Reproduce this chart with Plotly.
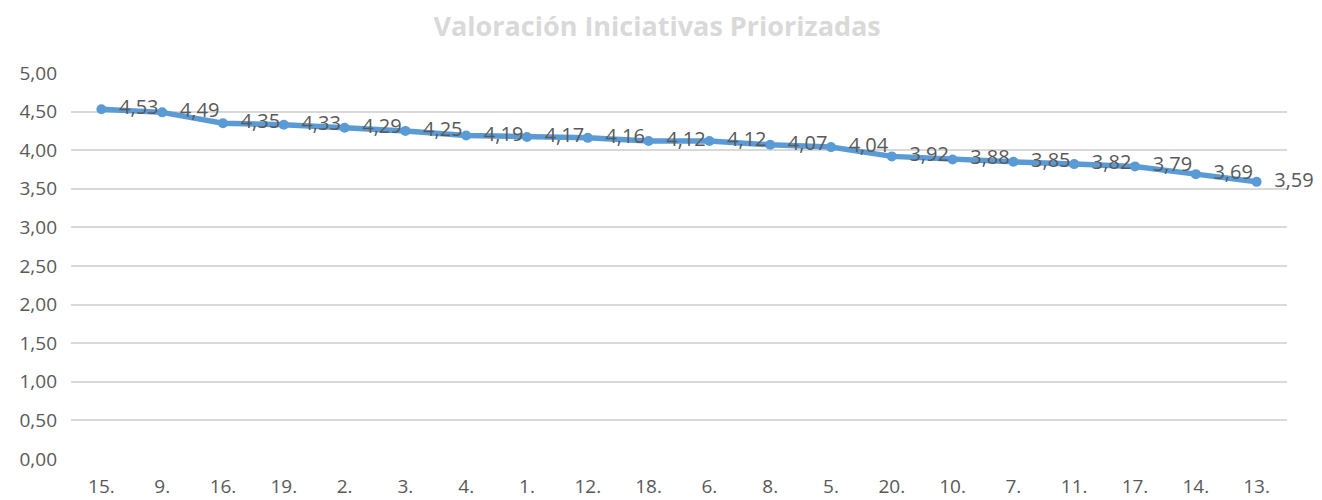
import plotly.graph_objects as go

categories = ["15.", "9.", "16.", "19.", "2.", "3.", "4.", "1.", "12.", "18.",
              "6.", "8.", "5.", "20.", "10.", "7.", "11.", "17.", "14.", "13."]
values = [4.53, 4.49, 4.35, 4.33, 4.29, 4.25, 4.19, 4.17, 4.16, 4.12,
          4.12, 4.07, 4.04, 3.92, 3.88, 3.85, 3.82, 3.79, 3.69, 3.59]
y_ticks = [0, 0.5, 1, 1.5, 2, 2.5, 3, 3.5, 4, 4.5, 5]
title_text = "Valoración Iniciativas Priorizadas"

labels = ["\u00a0\u00a0" + f"{v:.2f}".replace(".", ",") for v in values]
tick_text = [f"{v:.2f}".replace(".", ",") for v in y_ticks]

FONT = "Open Sans, Liberation Sans, sans-serif"

fig = go.Figure()
fig.add_trace(go.Scatter(
    x=categories, y=values,
    mode="lines+markers+text",
    line=dict(color="#5B9BD5", width=5.5),
    marker=dict(color="#5B9BD5", size=10),
    text=labels,
    textposition="middle right",
    textfont=dict(family=FONT, size=20, color="#595959"),
    cliponaxis=False,
    showlegend=False,
))

# page body has an 8px margin, so shrink the figure by 8px and shift margins
fig.update_layout(
    width=1314, height=492,
    margin=dict(l=63, r=35, t=65, b=41),
    paper_bgcolor="white", plot_bgcolor="white",
    title=dict(text=title_text, x=0.494, xanchor="center", y=0.962, yanchor="middle",
               font=dict(family=FONT, size=27, color="#D9D9D9", weight="bold")),
    font=dict(family=FONT, size=19, color="#595959"),
)
fig.update_xaxes(type="category", range=[-0.5, len(categories) - 0.5],
                 showgrid=False, showline=False, zeroline=False, ticks="",
                 automargin=False,
                 tickfont=dict(size=19, color="#595959"), ticklabelstandoff=14)
fig.update_yaxes(range=[0, 5], tickvals=y_ticks, ticktext=tick_text,
                 showgrid=True, gridcolor="#D9D9D9", gridwidth=2,
                 zeroline=False, showline=False, ticks="", automargin=False,
                 tickfont=dict(size=19, color="#595959"), ticklabelstandoff=13)

fig.write_html("out.html")
